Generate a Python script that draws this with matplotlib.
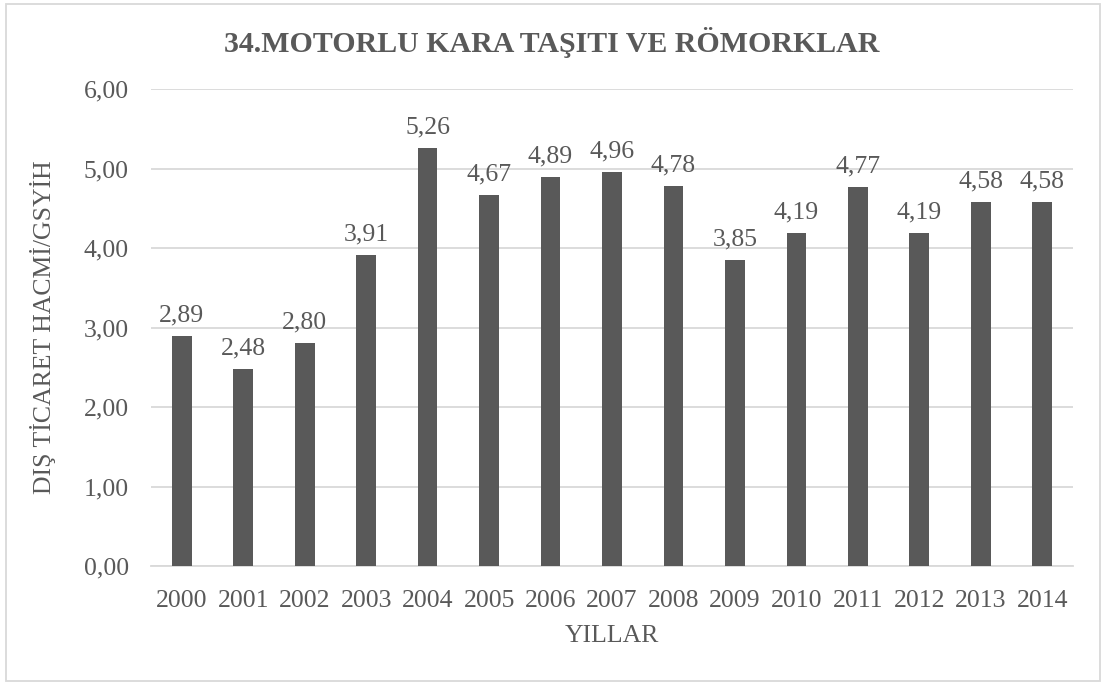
import matplotlib.pyplot as plt
from matplotlib.patches import Rectangle

years = ['2000', '2001', '2002', '2003', '2004', '2005', '2006', '2007',
         '2008', '2009', '2010', '2011', '2012', '2013', '2014']
values = [2.89, 2.48, 2.80, 3.91, 5.26, 4.67, 4.89, 4.96,
          4.78, 3.85, 4.19, 4.77, 4.19, 4.58, 4.58]
yticks = [0, 1, 2, 3, 4, 5, 6]

plt.rcParams['font.family'] = ['Liberation Serif', 'DejaVu Serif']
txt = '#595959'

fig = plt.figure(figsize=(11.03, 6.84), dpi=100)
ax = fig.add_axes([151 / 1103, 1 - 566 / 684, 922 / 1103, 477 / 684])

x = range(len(years))
ax.bar(x, values, width=0.32, color='#595959', zorder=3)
for i, v in zip(x, values):
    ax.text(i, v + 0.12, f'{v:.2f}'.replace('.', ','), ha='center', va='bottom',
            fontsize=18.5, color=txt)

ax.set_xlim(-0.5, len(years) - 0.5)
ax.set_ylim(0, 6)
ax.set_yticks(yticks)
ax.set_yticklabels([f'{t:.2f}'.replace('.', ',') for t in yticks], fontsize=18.5, color=txt)
ax.set_xticks(list(x))
ax.set_xticklabels(years, fontsize=18.5, color=txt)
ax.tick_params(axis='y', length=0, pad=16)
ax.tick_params(axis='x', length=0, pad=17)
ax.grid(axis='y', color='#d9d9d9', linewidth=1.3, zorder=0)
for s in ['top', 'right', 'left']:
    ax.spines[s].set_visible(False)
ax.spines['bottom'].set_color('#d9d9d9')
ax.spines['bottom'].set_linewidth(1.3)

ax.set_xlabel('YILLAR', fontsize=18.5, color=txt, labelpad=10)
ax.set_ylabel('DIŞ TİCARET HACMİ/GSYİH', fontsize=18.5, color=txt, labelpad=20)
fig.text(0.5, 1 - 42 / 684, '34.MOTORLU KARA TAŞITI VE RÖMORKLAR', ha='center', va='center',
         fontsize=21.5, fontweight='bold', color=txt)

fig.patches.append(Rectangle((6 / 1103, 3 / 684), 1094 / 1103, 677 / 684,
                             transform=fig.transFigure, fill=False,
                             edgecolor='#d9d9d9', linewidth=1.3))

fig.savefig('out.png', dpi=100)
